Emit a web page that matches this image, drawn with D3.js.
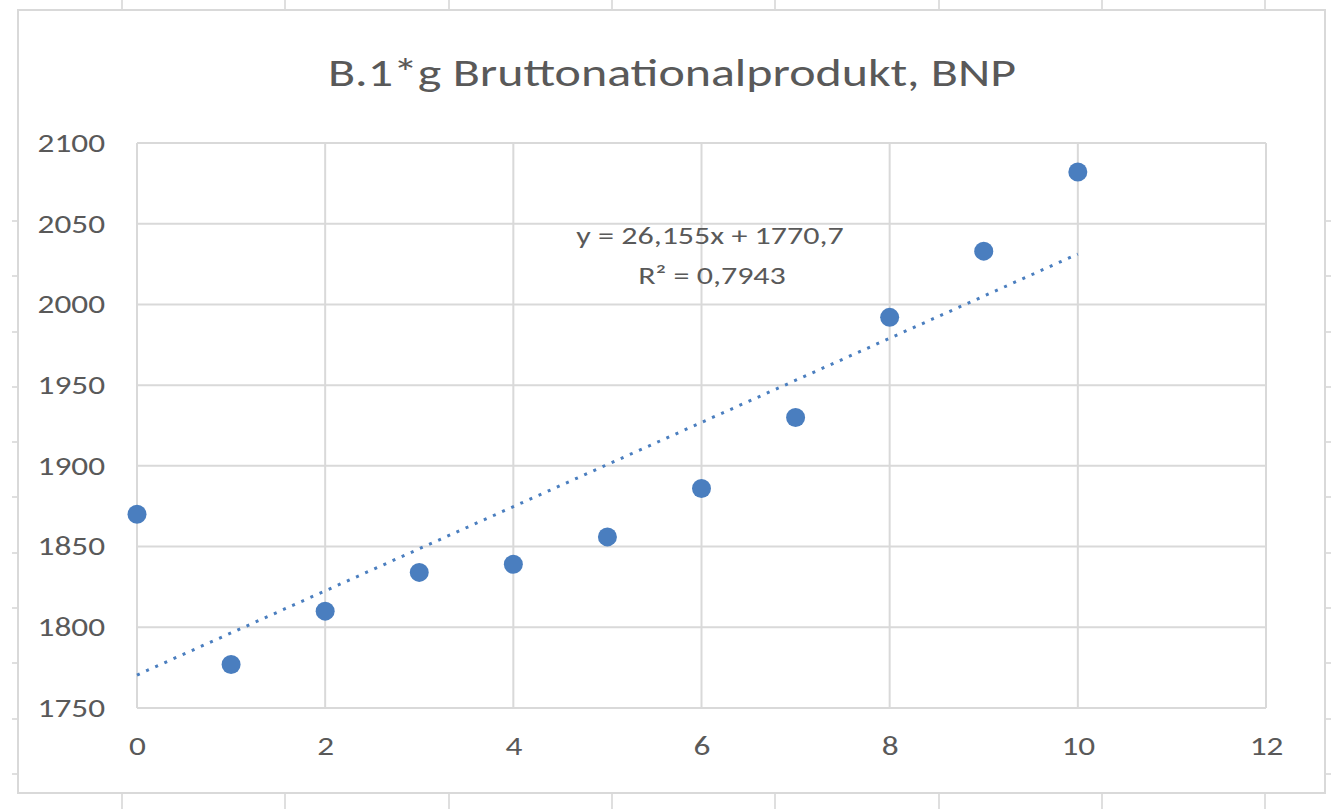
<!DOCTYPE html>
<html>
<head>
<meta charset="utf-8">
<script src="https://cdnjs.cloudflare.com/ajax/libs/d3/7.8.5/d3.min.js"></script>
<style>
  html, body { margin: 0; padding: 0; background: #fff; }
  svg { display: block; font-family: Carlito, Lato, "Open Sans", sans-serif; }
</style>
</head>
<body>
<div id="chart"></div>
<script>
// values (year index -> BNP)
var years = [0, 1, 2, 3, 4, 5, 6, 7, 8, 9, 10];
var bnp = [1870, 1777, 1810, 1834, 1839, 1856, 1886, 1930, 1992, 2033, 2082];

var xTicks = [0, 2, 4, 6, 8, 10, 12];
var yTicks = [1750, 1800, 1850, 1900, 1950, 2000, 2050, 2100];

var title = "B.1*g Bruttonationalprodukt, BNP";
var eqLabel = "y = 26,155x + 1770,7";
var r2Label = "R\u00b2 = 0,7943";

var W = 1334, H = 809;
var BLUE = "#4A7EBF";
var GRID = "#d9d9d9";
var TEXT = "#595959";
var STRETCH = 1.28;   // the screenshot's text is wider than Lato

var svg = d3.select("#chart").append("svg")
  .attr("width", W)
  .attr("height", H);

// stretch text horizontally to the reference width
function widen(sel) {
  sel.each(function () {
    var len = this.getComputedTextLength();
    d3.select(this)
      .attr("textLength", len * STRETCH)
      .attr("lengthAdjust", "spacingAndGlyphs");
  });
}

// spreadsheet cells peeking out behind the chart object
var sheetCols = [122, 285, 449, 612, 775, 939, 1102, 1265];
var sheetRows = [221, 276, 332, 387, 442, 497, 553, 608, 663, 719, 774];
var sheet = svg.append("g").attr("stroke", "#d4d4d4").attr("stroke-width", 1.5);
sheetCols.forEach(function (c) {
  sheet.append("line").attr("x1", c).attr("x2", c).attr("y1", 0).attr("y2", H);
});
sheetRows.forEach(function (r) {
  sheet.append("line").attr("x1", 12).attr("x2", 18).attr("y1", r).attr("y2", r);
  sheet.append("line").attr("x1", 1325).attr("x2", 1331).attr("y1", r).attr("y2", r);
});

// chart object
svg.append("rect")
  .attr("x", 18).attr("y", 10)
  .attr("width", 1307).attr("height", 783)
  .attr("fill", "#fff")
  .attr("stroke", "#d9d9d9")
  .attr("stroke-width", 2);

var plot = { left: 137, right: 1266, top: 143, bottom: 708 };

var x = d3.scaleLinear().domain([0, 12]).range([plot.left, plot.right]);
var y = d3.scaleLinear().domain([1750, 2100]).range([plot.bottom, plot.top]);

// gridlines
var grid = svg.append("g").attr("stroke", GRID).attr("stroke-width", 2);
xTicks.forEach(function (t) {
  grid.append("line")
    .attr("x1", x(t)).attr("x2", x(t))
    .attr("y1", plot.top).attr("y2", plot.bottom);
});
yTicks.forEach(function (t) {
  grid.append("line")
    .attr("x1", plot.left).attr("x2", plot.right)
    .attr("y1", y(t)).attr("y2", y(t));
});

// axes (labels only, lines are the gridlines)
var xAxis = svg.append("g")
  .attr("transform", "translate(0," + plot.bottom + ")")
  .call(d3.axisBottom(x).tickValues(xTicks).tickFormat(d3.format("d"))
    .tickSize(0).tickPadding(29));
var yAxis = svg.append("g")
  .attr("transform", "translate(" + plot.left + ",0)")
  .call(d3.axisLeft(y).tickValues(yTicks).tickFormat(d3.format("d"))
    .tickSize(0).tickPadding(32));
[xAxis, yAxis].forEach(function (a) {
  a.select(".domain").remove();
  a.selectAll("text")
    .attr("fill", TEXT)
    .style("font-size", "26px")
    .style("font-family", "Carlito, Lato, sans-serif")
    .call(widen);
});

// least squares trendline from the data
var mx = d3.mean(years), my = d3.mean(bnp);
var sxy = d3.sum(years, function (v, i) { return (v - mx) * (bnp[i] - my); });
var sxx = d3.sum(years, function (v) { return (v - mx) * (v - mx); });
var slope = sxy / sxx, icpt = my - slope * mx;
var ext = d3.extent(years);

svg.append("line")
  .attr("x1", x(ext[0])).attr("y1", y(icpt + slope * ext[0]))
  .attr("x2", x(ext[1])).attr("y2", y(icpt + slope * ext[1]))
  .attr("stroke", BLUE)
  .attr("stroke-width", 3)
  .attr("stroke-dasharray", "3,7");

// points
svg.append("g").selectAll("circle")
  .data(years)
  .join("circle")
  .attr("cx", function (d) { return x(d); })
  .attr("cy", function (d, i) { return y(bnp[i]); })
  .attr("r", 9.5)
  .attr("fill", BLUE);

// trendline label
svg.append("text")
  .attr("x", 710).attr("y", 244)
  .attr("text-anchor", "middle")
  .attr("fill", TEXT)
  .style("font-size", "25px")
  .text(eqLabel)
  .call(widen);
svg.append("text")
  .attr("x", 712).attr("y", 284)
  .attr("text-anchor", "middle")
  .attr("fill", TEXT)
  .style("font-size", "25px")
  .text(r2Label)
  .call(widen);

// title
svg.append("text")
  .attr("x", 672).attr("y", 86)
  .attr("text-anchor", "middle")
  .attr("fill", TEXT)
  .style("font-size", "39px")
  .text(title)
  .call(widen);
</script>
</body>
</html>
